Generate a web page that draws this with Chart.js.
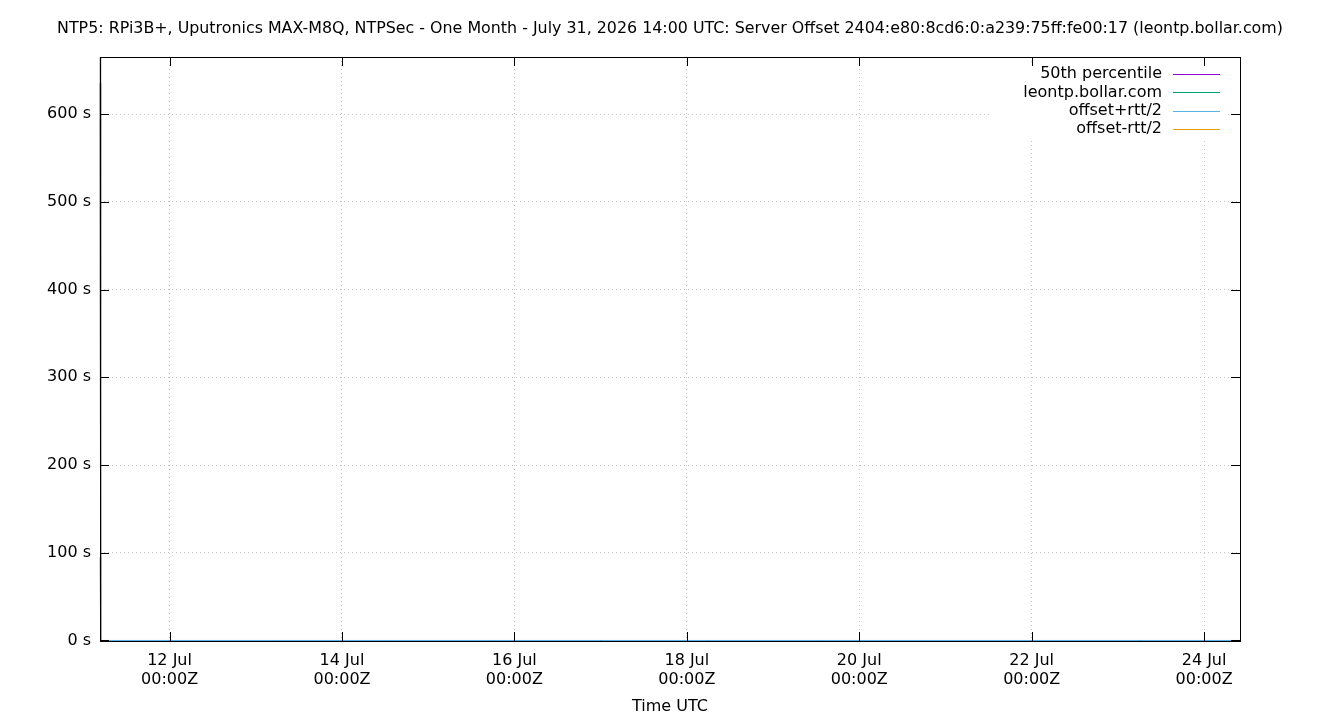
<!DOCTYPE html>
<html>
<head>
<meta charset="utf-8">
<title>NTP5 Server Offset</title>
<script src="https://cdn.jsdelivr.net/npm/chart.js@4.4.1/dist/chart.umd.min.js"></script>
<style>
  html, body { margin: 0; padding: 0; background: #fff; }
  #wrap { width: 1340px; height: 720px; }
</style>
</head>
<body>
<div id="wrap"><canvas id="offsetChart" width="1340" height="720"></canvas></div>
<script>
const chartTitle =
  "NTP5: RPi3B+, Uputronics MAX-M8Q, NTPSec - One Month - July 31, 2026 14:00 UTC: Server Offset 2404:e80:8cd6:0:a239:75ff:fe00:17 (leontp.bollar.com)";

// sample times (UTC) and offsets in seconds
const sampleTimes = [
  "2026-07-11T04:38:00Z", "2026-07-11T04:50:00Z", "2026-07-12T00:00:00Z",
  "2026-07-13T06:00:00Z", "2026-07-14T12:00:00Z", "2026-07-15T18:00:00Z",
  "2026-07-17T00:00:00Z", "2026-07-18T06:00:00Z", "2026-07-19T12:00:00Z",
  "2026-07-20T18:00:00Z", "2026-07-22T00:00:00Z", "2026-07-23T06:00:00Z",
  "2026-07-24T10:00:00Z",
];
const percentile50 = [0.00001, 0.00001, 0.00001, 0.00001, 0.00001, 0.00001, 0.00001, 0.00001, 0.00001, 0.00001, 0.00001, 0.00001, 0.00001];
const leontpOffset = [635, 0.00002, 0.00001, 0.00002, 0.00001, 0.00002, 0.00001, 0.00001, 0.00002, 0.00001, 0.00002, 0.00001, 0.00001];
const offsetPlusRtt = [665, 0.0003, 0.0003, 0.0003, 0.0003, 0.0003, 0.0003, 0.0003, 0.0003, 0.0003, 0.0003, 0.0003, 0.0003];
const offsetMinusRtt = [95, -0.0003, -0.0003, -0.0003, -0.0003, -0.0003, -0.0003, -0.0003, -0.0003, -0.0003, -0.0003, -0.0003, -0.0003];

const xTickDates = [
  "2026-07-12T00:00:00Z", "2026-07-14T00:00:00Z", "2026-07-16T00:00:00Z",
  "2026-07-18T00:00:00Z", "2026-07-20T00:00:00Z", "2026-07-22T00:00:00Z",
  "2026-07-24T00:00:00Z",
];
const yTickValues = [0, 100, 200, 300, 400, 500, 600];
const yMin = -0.57;
const yMax = 665;

const legendItems = [
  { label: "50th percentile", color: "#9400d3" },
  { label: "leontp.bollar.com", color: "#009e73" },
  { label: "offset+rtt/2", color: "#56b4e9" },
  { label: "offset-rtt/2", color: "#e69f00" },
];

const FONT = "'DejaVu Sans', sans-serif";
const times = sampleTimes.map((t) => Date.parse(t));

function toPoints(values) {
  return values.map((v, i) => ({ x: times[i], y: v }));
}

function lineSet(label, values, color) {
  return {
    label,
    data: toPoints(values),
    borderColor: color,
    backgroundColor: color,
    borderWidth: 1,
    pointRadius: 0,
    tension: 0,
    clip: 2,
  };
}

// gnuplot-style frame with inward ticks, title and key box
const framePlugin = {
  id: "framePlugin",
  afterDatasetsDraw(chart) {
    const { ctx, chartArea: a, scales } = chart;
    ctx.save();
    ctx.font = "15.87px " + FONT;
    ctx.fillStyle = "#000";
    ctx.textAlign = "center";
    ctx.textBaseline = "middle";
    ctx.fillText(chartTitle, 670, 29);

    ctx.fillStyle = "#fff";
    ctx.fillRect(992, 64, 235, 75);

    ctx.font = "16px " + FONT;
    ctx.textAlign = "right";
    legendItems.forEach((item, i) => {
      const y = 74 + i * 18.4;
      ctx.fillStyle = "#000";
      ctx.fillText(item.label, 1162, y);
      ctx.strokeStyle = item.color;
      ctx.lineWidth = 1;
      ctx.beginPath();
      ctx.moveTo(1173, Math.round(y) + 0.5);
      ctx.lineTo(1220, Math.round(y) + 0.5);
      ctx.stroke();
    });

    ctx.strokeStyle = "#000";
    ctx.lineWidth = 1;
    ctx.beginPath();
    scales.y.ticks.forEach((t) => {
      const y = Math.round(scales.y.getPixelForValue(t.value)) + 0.5;
      ctx.moveTo(a.left, y);
      ctx.lineTo(a.left + 9, y);
      ctx.moveTo(a.right, y);
      ctx.lineTo(a.right - 9, y);
    });
    scales.x.ticks.forEach((t) => {
      const x = Math.round(scales.x.getPixelForValue(t.value)) + 0.5;
      ctx.moveTo(x, a.bottom);
      ctx.lineTo(x, a.bottom - 9);
      ctx.moveTo(x, a.top);
      ctx.lineTo(x, a.top + 9);
    });
    ctx.stroke();
    ctx.strokeRect(a.left + 0.5, a.top + 0.5, a.right - a.left, a.bottom - a.top);
    ctx.restore();
  },
};

const gridStyle = {
  color: "#c4c4c4",
  lineWidth: 1,
  drawTicks: false,
};

new Chart(document.getElementById("offsetChart"), {
  type: "line",
  data: {
    datasets: [
      lineSet("offset+rtt/2", offsetPlusRtt, "#56b4e9"),
      lineSet("50th percentile", percentile50, "#9400d3"),
      lineSet("leontp.bollar.com", leontpOffset, "#009e73"),
      lineSet("offset-rtt/2", offsetMinusRtt, "#e69f00"),
    ],
  },
  options: {
    responsive: false,
    animation: false,
    events: [],
    layout: { padding: { left: 0, right: 100, top: 57, bottom: 0 } },
    plugins: {
      legend: { display: false },
      tooltip: { enabled: false },
      title: { display: false },
    },
    scales: {
      x: {
        type: "linear",
        min: times[0],
        max: times[times.length - 1],
        afterBuildTicks: (scale) => {
          scale.ticks = xTickDates.map((d) => ({ value: Date.parse(d) }));
        },
        afterFit: (scale) => {
          scale.height = 79;
        },
        grid: { ...gridStyle },
        border: { display: false, dash: [1, 3] },
        ticks: {
          color: "#000",
          font: { family: FONT, size: 16, lineHeight: 1.15 },
          padding: 11,
          maxRotation: 0,
          autoSkip: false,
          callback: (value) => {
            const d = new Date(value);
            return [d.getUTCDate() + " Jul", "00:00Z"];
          },
        },
        title: {
          display: true,
          text: "Time UTC",
          color: "#000",
          font: { family: FONT, size: 16, lineHeight: 1.2 },
          padding: { top: 0, bottom: 4 },
        },
      },
      y: {
        type: "linear",
        min: yMin,
        max: yMax,
        afterBuildTicks: (scale) => {
          scale.ticks = yTickValues.map((v) => ({ value: v }));
        },
        afterFit: (scale) => {
          scale.width = 100;
        },
        grid: { ...gridStyle },
        border: { display: false, dash: [1, 3] },
        ticks: {
          color: "#000",
          font: { family: FONT, size: 16 },
          padding: 9,
          callback: (value) => value + " s",
        },
      },
    },
  },
  plugins: [framePlugin],
});
</script>
</body>
</html>
